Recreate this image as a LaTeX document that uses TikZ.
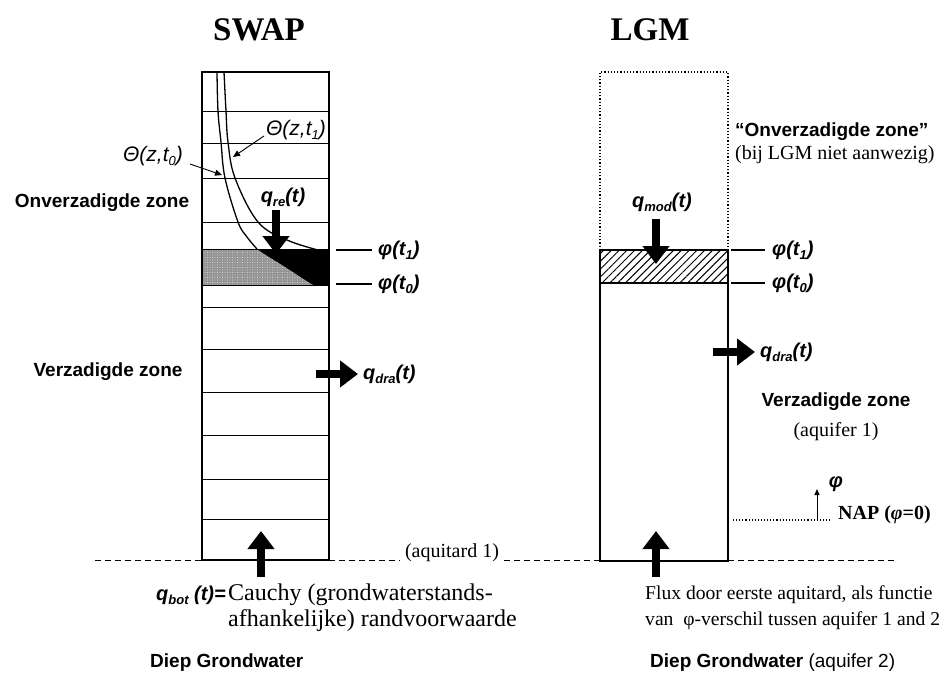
\documentclass[tikz,border=0pt]{standalone}
\usepackage{fontspec}
\setmainfont{Liberation Serif}
\newfontfamily\ars{Liberation Sans}
\usetikzlibrary{arrows.meta,patterns.meta}
\newcommand\fsz[1]{\fontsize{#1}{#1}\selectfont}
\newcommand\lsub[1]{\raisebox{-0.4ex}{\fsz{13}#1}}
\tikzset{
  every node/.style={inner sep=0pt},
  lab/.style={font=\ars\bfseries\fsz{19}},
  qlab/.style={font=\ars\bfseries\itshape\fsz{20}},
  thlab/.style={font=\ars\itshape\fsz{21}},
  ser/.style={font=\fsz{20}},
  serbig/.style={font=\fsz{24}},
  sermid/.style={font=\fsz{19.6}},
  ttl/.style={font=\bfseries\fsz{33}},
  bigarrow/.style={line width=8pt,-{Triangle[width=26pt,length=18pt]}},
  thinarrow/.style={line width=0.9pt,-{Triangle[width=6pt,length=7pt]}},
  frame/.style={line width=1.7pt},
  cell/.style={line width=0.8pt},
  dashln/.style={line width=0.9pt,dash pattern=on 6pt off 4pt},
  philine/.style={line width=1.2pt},
}
\begin{document}
\begin{tikzpicture}[x=1pt,y=-1pt]
\useasboundingbox (0,0) rectangle (947,675);

% titles
\node[ttl] (swap) at (259,30) {SWAP};
\node[ttl] (lgm) at (650,30) {LGM};

% ---------- SWAP column ----------
\foreach \yy in {111,143,178,222,307,349,392,435,479,519}
  \draw[cell] (202,\yy) -- (329,\yy);
% band
\begin{scope}
  \clip (202,249) rectangle (329,285);
  \fill[black] (202,249) rectangle (329,285);
  \fill[black!42] (150,72) -- plot[smooth,tension=0.6] coordinates
     {(217,72) (218,111) (221,142) (225,178) (238,222) (247,237) (257,249) (285,267) (313,285) (340,300)}
     -- (150,300) -- cycle;
  \fill[pattern={Dots[distance=2.5pt,radius=0.35pt]},pattern color=white] (150,72) -- plot[smooth,tension=0.6] coordinates
     {(217,72) (218,111) (221,142) (225,178) (238,222) (247,237) (257,249) (285,267) (313,285) (340,300)}
     -- (150,300) -- cycle;
\end{scope}
\draw[cell] (202,249) -- (329,249);
\draw[cell] (202,285) -- (329,285);
% theta curves
\draw[line width=1.3pt] plot[smooth,tension=0.6] coordinates
  {(217,72) (218,111) (221,142) (225,178) (238,222) (247,237) (257,249)};
\draw[line width=1.3pt] plot[smooth,tension=0.6] coordinates
  {(224,72) (226,111) (228,142) (235,178) (258,222) (287,240) (318,250)};
\draw[frame] (202,72) rectangle (329,560);

% theta labels
\node[thlab] (th1) at (296,130) {Θ(z,t\lsub{1})};
\node[thlab] (th0) at (153,156) {Θ(z,t\lsub{0})};
\coordinate (th1tip) at (233,157);
\coordinate (th1s) at (264,136);
\coordinate (th0tip) at (222,175);
\coordinate (th0s) at (190,164);
\draw[thinarrow] (th1s) -- (th1tip);
\draw[thinarrow] (th0s) -- (th0tip);

% zone labels
\node[lab] (onv) at (102,203) {Onverzadigde zone};
\node[lab] (verz) at (108,372) {Verzadigde zone};

% q_re
\node[qlab] (qre) at (283,197) {q\lsub{re}(t)};
\coordinate (qreS) at (276,210);
\coordinate (qreE) at (276,254);
\draw[bigarrow] (qreS) -- (qreE);

% phi markers SWAP
\coordinate (p1a) at (336,250); \coordinate (p1b) at (372,250);
\coordinate (p0a) at (336,284); \coordinate (p0b) at (372,284);
\draw[philine] (p1a) -- (p1b);
\draw[philine] (p0a) -- (p0b);
\node[qlab,anchor=west] (phs1) at (378,250) {φ(t\lsub{1})};
\node[qlab,anchor=west] (phs0) at (378,284) {φ(t\lsub{0})};

% q_dra SWAP
\coordinate (qdsS) at (316,374);
\coordinate (qdsE) at (358,374);
\draw[bigarrow] (qdsS) -- (qdsE);
\node[qlab,anchor=west] (qdras) at (363,374) {q\lsub{dra}(t)};

% bottom arrow SWAP
\coordinate (qbS) at (261,577);
\coordinate (qbE) at (261,531);
\draw[bigarrow] (qbS) -- (qbE);

% ---------- LGM column ----------
\fill[pattern={Lines[angle=45,distance=5.5pt,line width=1pt]}] (600,250) rectangle (728,283);
\draw[line width=1.2pt,dotted] (600,250) -- (600,72) -- (728,72) -- (728,250);
\draw[frame] (600,250) rectangle (728,561);
\draw[frame] (600,283) -- (728,283);

\node[qlab] (qmod) at (662,202) {q\lsub{mod}(t)};
\coordinate (qmS) at (656,219);
\coordinate (qmE) at (656,264);
\draw[bigarrow] (qmS) -- (qmE);

\coordinate (l1a) at (731,250); \coordinate (l1b) at (765,250);
\coordinate (l0a) at (731,283); \coordinate (l0b) at (765,283);
\draw[philine] (l1a) -- (l1b);
\draw[philine] (l0a) -- (l0b);
\node[qlab,anchor=west] (phl1) at (772,250) {φ(t\lsub{1})};
\node[qlab,anchor=west] (phl0) at (772,283) {φ(t\lsub{0})};

\node[lab,anchor=west] (onvq) at (735,132) {“Onverzadigde zone”};
\node[ser,anchor=west] (bij) at (735,155) {(bij LGM niet aanwezig)};

\coordinate (qdlS) at (713,352);
\coordinate (qdlE) at (755,352);
\draw[bigarrow] (qdlS) -- (qdlE);
\node[qlab,anchor=west] (qdral) at (760,352) {q\lsub{dra}(t)};

\node[lab] (verzl) at (836,402) {Verzadigde zone};
\node[ser] (aq1) at (836,432) {(aquifer 1)};

% NAP
\coordinate (napA) at (733,520);
\coordinate (napB) at (832,520);
\draw[line width=1.1pt,dotted] (napA) -- (napB);
\coordinate (phS) at (817,520);
\coordinate (phE) at (817,489);
\draw[line width=0.9pt,-{Triangle[width=5pt,length=6pt]}] (phS) -- (phE);
\node[qlab] (phup) at (836,484) {φ};
\node[font=\bfseries\fsz{20},anchor=west] (nap) at (838,515) {NAP (\textit{φ}=0)};

\coordinate (qlS) at (656,577);
\coordinate (qlE) at (656,531);
\draw[bigarrow] (qlS) -- (qlE);

% ---------- aquitard dashed line ----------
\coordinate (d1) at (95,560); \coordinate (d2) at (202,560);
\coordinate (d3) at (329,560); \coordinate (d4) at (400,560);
\coordinate (d5) at (504,560); \coordinate (d6) at (600,560);
\coordinate (d7) at (728,560); \coordinate (d8) at (897,560);
\draw[dashln] (d1) -- (d2);
\draw[dashln] (d3) -- (d4);
\draw[dashln] (d5) -- (d6);
\draw[dashln] (d7) -- (d8);
\node[ser] (aqt) at (452,553) {(aquitard 1)};

% ---------- bottom texts ----------
\node[qlab,anchor=east] (qbot) at (226,595) {q\lsub{bot} (t)=};
\node[serbig,anchor=west] (cau1) at (228,595) {Cauchy (grondwaterstands-};
\node[serbig,anchor=west] (cau2) at (228,621) {afhankelijke) randvoorwaarde};
\node[lab,anchor=west] (diepl) at (150,663) {Diep Grondwater};

\node[sermid,anchor=west] (flux1) at (645,595) {Flux door eerste aquitard, als functie};
\node[sermid,anchor=west] (flux2) at (645,621) {van\hspace{0.5em}φ-verschil tussen aquifer 1 and 2};
\node[lab,anchor=west] (diepr) at (650,663) {Diep Grondwater {\mdseries (aquifer 2)}};
\end{tikzpicture}
\end{document}
